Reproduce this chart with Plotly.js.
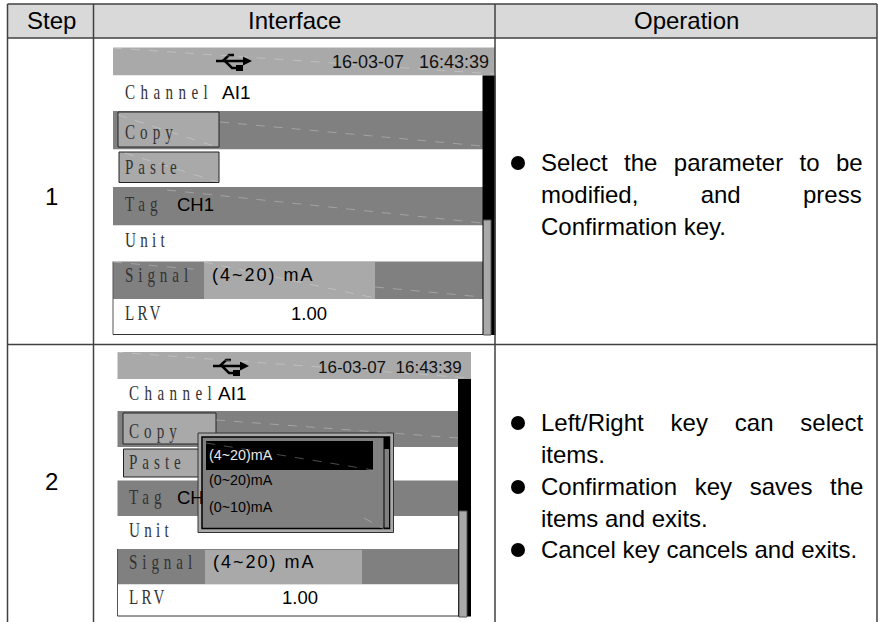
<!DOCTYPE html>
<html><head><meta charset="utf-8">
<script src="https://cdn.plot.ly/plotly-3.0.1.min.js"></script>
<style>html,body{margin:0;padding:0;background:#fff}#c{width:878px;height:622px}</style>
</head><body><div id="c"></div>
<script>
const SANS='Liberation Sans, Arial, sans-serif', SERIF='Liberation Serif, Times New Roman, serif';
const headers=['Step','Interface','Operation'];
const headerCenters=[51,294,686];
const steps=['1','2'];
const stepY=[196,481];
const colLines=[7.5,93.5,495,877];
const rowLines=[4,38,344.5];
const rowLabels=['Channel','Copy','Paste','Tag','Unit','Signal','LRV'];
const rowColors=['#ffffff','#808080','#ffffff','#808080','#ffffff','#808080','#ffffff'];
const panel1={x0:113,x1:495,top:47.5,bar:75.5,rows:[75.5,111,149.5,187,225.5,261.5,299,334.5],labelX:125,labelY:[92,132,167,204,240,275,313],
  copy:[118,219,112,147],paste:[119,219,152,182.5],signal:[204,375,262,299],
  scroll:[482.5,495.5],thumb:[483.5,491,220,335],time:[332,62,18,'16-03-07\u00a0\u00a0\u00a016:43:39'],usb:[0,0],
  ai:[222,92],tag:[177,204,'CH1'],sig:[212,275],lrv:[291,313]};
const panel2={x0:117.5,x1:471,top:352,bar:379,rows:[379,411,447,480.5,516,549,584.5,616],labelX:129,labelY:[393,431,462,497,530,562,597],
  copy:[123,216,413,444],paste:[123.5,216,449,477],signal:[205,362,550,584],
  scroll:[458,471],thumb:[459,467,511,617],time:[318,367,17,'16-03-07\u00a0\u00a016:43:39'],usb:[-3,305],
  ai:[218,393],tag:[177,497,'CH'],sig:[213,562],lrv:[282,597]};
const popupItems=['(4~20)mA','(0~20)mA','(0~10)mA'];
const popupY=[455,480,507];
const opLines=[
 ['Select the parameter to be',163,9.7],['modified, and press',195,55.6],['Confirmation key.',227,0],
 ['Left/Right key can select',423,20.2],['items.',455,0],['Confirmation key saves the',487,11],['items and exits.',519,0],['Cancel key cancels and exits.',550,0]];
const bulletX=[518,518,518,518];
const bulletY=[163,423,487,550];
const labelSpacing={Channel:7.5,Copy:7,Paste:6.9,Tag:7,Unit:6,Signal:6.8,LRV:4.5};
const scratches=[[113,48,495,74],[220,122,482,146],[118,115,217,147],[125,153,218,182],[167,190,482,223],[113,262,203,270],[204,262,375,298],[375,287,482,297],[114,352,471,378],[216,420,458,438]];

let css='';
for(const k in labelSpacing) css+=`.annotation-text[data-unformatted="${k}"]{letter-spacing:${labelSpacing[k]}px;transform-box:fill-box;transform-origin:left center;transform:scaleX(.72)}`;
css+='.annotation-text[data-unformatted="(4~20) mA"]{letter-spacing:2px}';
opLines.forEach(l=>{if(l[2])css+=`.annotation-text[data-unformatted="${l[0]}"]{word-spacing:${l[2]}px}`;});
const st=document.createElement('style');st.textContent=css;document.head.appendChild(st);

const shapes=[],ann=[];
const rect=(x0,x1,y0,y1,fill,lc,lw)=>shapes.push({type:'rect',xref:'x',yref:'y',x0,x1,y0,y1,fillcolor:fill||'rgba(0,0,0,0)',line:{color:lc||'rgba(0,0,0,0)',width:lw||0},layer:'above'});
const line=(x0,y0,x1,y1,c,w,dash)=>shapes.push({type:'line',xref:'x',yref:'y',x0,y0,x1,y1,line:{color:c,width:w,dash:dash||'solid'},layer:'above'});
const path=(d,fill,c,w)=>shapes.push({type:'path',xref:'x',yref:'y',path:d,fillcolor:fill||'rgba(0,0,0,0)',line:{color:c||'rgba(0,0,0,0)',width:w||0},layer:'above'});
const text=(t,x,y,size,opts={})=>ann.push({text:t,x,y,xref:'x',yref:'y',showarrow:false,xanchor:opts.anchor||'left',yanchor:'middle',borderpad:0,borderwidth:0,align:opts.anchor==='center'?'center':'left',font:{family:opts.family||SANS,size,color:opts.color||'#000'}});

// table
rect(colLines[0],colLines[3],rowLines[0],rowLines[1],'#d9d9d9');
headers.forEach((h,i)=>text(h,headerCenters[i],20,24,{anchor:'center'}));
steps.forEach((s,i)=>text(s,headerCenters[0],stepY[i],24,{anchor:'center'}));

function usb(dx,dy){
  const X=v=>v+dx,Y=v=>v+dy;
  path(`M${X(213)},${Y(61)} a4,4 0 1,0 8,0 a4,4 0 1,0 -8,0 Z`,'#000');
  line(X(216),Y(61),X(246),Y(61),'#000',2.5);
  path(`M${X(243)},${Y(56.5)} L${X(252)},${Y(61)} L${X(243)},${Y(65.5)} Z`,'#000');
  path(`M${X(223)},${Y(61)} L${X(229)},${Y(55)} L${X(234)},${Y(55)}`,null,'#000',2.5);
  path(`M${X(231.5)},${Y(55)} a3.5,3.5 0 1,0 7,0 a3.5,3.5 0 1,0 -7,0 Z`,'#000');
  path(`M${X(225)},${Y(61)} L${X(232)},${Y(68)} L${X(237)},${Y(68)}`,null,'#000',2.5);
  rect(X(236),X(243),Y(65),Y(71),'#000');
}
function panel(p){
  rect(p.x0,p.x1,p.top,p.bar,'#a9a9a9');
  rowColors.forEach((c,i)=>rect(p.x0,p.x1-12,p.rows[i],p.rows[i+1],c));
  line(p.x0,p.rows[5],p.x0,p.rows[7],'#555',1);
  line(p.x0,p.rows[7],p.x1-12,p.rows[7],'#333',1);
  rect(p.copy[0],p.copy[1],p.copy[2],p.copy[3],'#a9a9a9','#222',1);
  rect(p.paste[0],p.paste[1],p.paste[2],p.paste[3],'#a9a9a9','#222',1);
  rect(p.signal[0],p.signal[1],p.signal[2],p.signal[3],'#a9a9a9');
  rect(p.scroll[0],p.scroll[1],p.bar,p.rows[7]+.5,'#000');
  rect(p.thumb[0],p.thumb[1],p.thumb[2],p.thumb[3],'#a9a9a9','#555',1);
  usb(p.usb[0],p.usb[1]);
  rowLabels.forEach((l,i)=>text(l,p.labelX,p.labelY[i],21,{family:SERIF,color:'#333'}));
  text(p.time[3],p.time[0],p.time[1],p.time[2],{color:'#111'});
  text('AI1',p.ai[0],p.ai[1],19);
  text(p.tag[2],p.tag[0],p.tag[1],18.5);
  text('(4~20) mA',p.sig[0],p.sig[1],18);
  text('1.00',p.lrv[0],p.lrv[1],18.5);
}
panel(panel1);panel(panel2);

// scratches
scratches.forEach(s=>line(s[0],s[1],s[2],s[3],'rgba(235,235,235,0.4)',0.8,'dash'));

// popup
rect(198,393.5,433,532.5,'#a9a9a9','#333',1);
rect(202,389.5,437,528.5,'#808080','#000',1.5);
rect(206,373,441,470,'#000');
rect(384,389.5,437.5,528,'#808080','#000',1);
rect(384,389.5,437.5,449,'#000');
line(364,518,384,529,'rgba(235,235,235,0.4)',0.8,'dash');
line(206,443,373,470,'rgba(235,235,235,0.4)',0.8,'dash');
popupItems.forEach((t,i)=>text(t,209,popupY[i],14.3,{color:i===0?'#e8e8e8':'#000'}));

// grid lines of the table
colLines.forEach(x=>line(x,rowLines[0],x,622,'#404040',1.5));
rowLines.forEach(y=>line(colLines[0],y,colLines[3],y,'#404040',1.5));

// operation text
opLines.forEach(l=>text(l[0],541,l[1]-1,24));

const traces=[{type:'scatter',mode:'markers',x:bulletX,y:bulletY,marker:{color:'#000',size:14,line:{width:0}},hoverinfo:'skip',showlegend:false}];
const layout={width:878,height:622,margin:{l:0,r:0,t:0,b:0},paper_bgcolor:'#fff',plot_bgcolor:'#fff',showlegend:false,
 xaxis:{range:[0,878],visible:false,fixedrange:true},yaxis:{range:[622,0],visible:false,fixedrange:true},shapes,annotations:ann};
Plotly.newPlot('c',traces,layout,{displayModeBar:false,staticPlot:true});
</script></body></html>
